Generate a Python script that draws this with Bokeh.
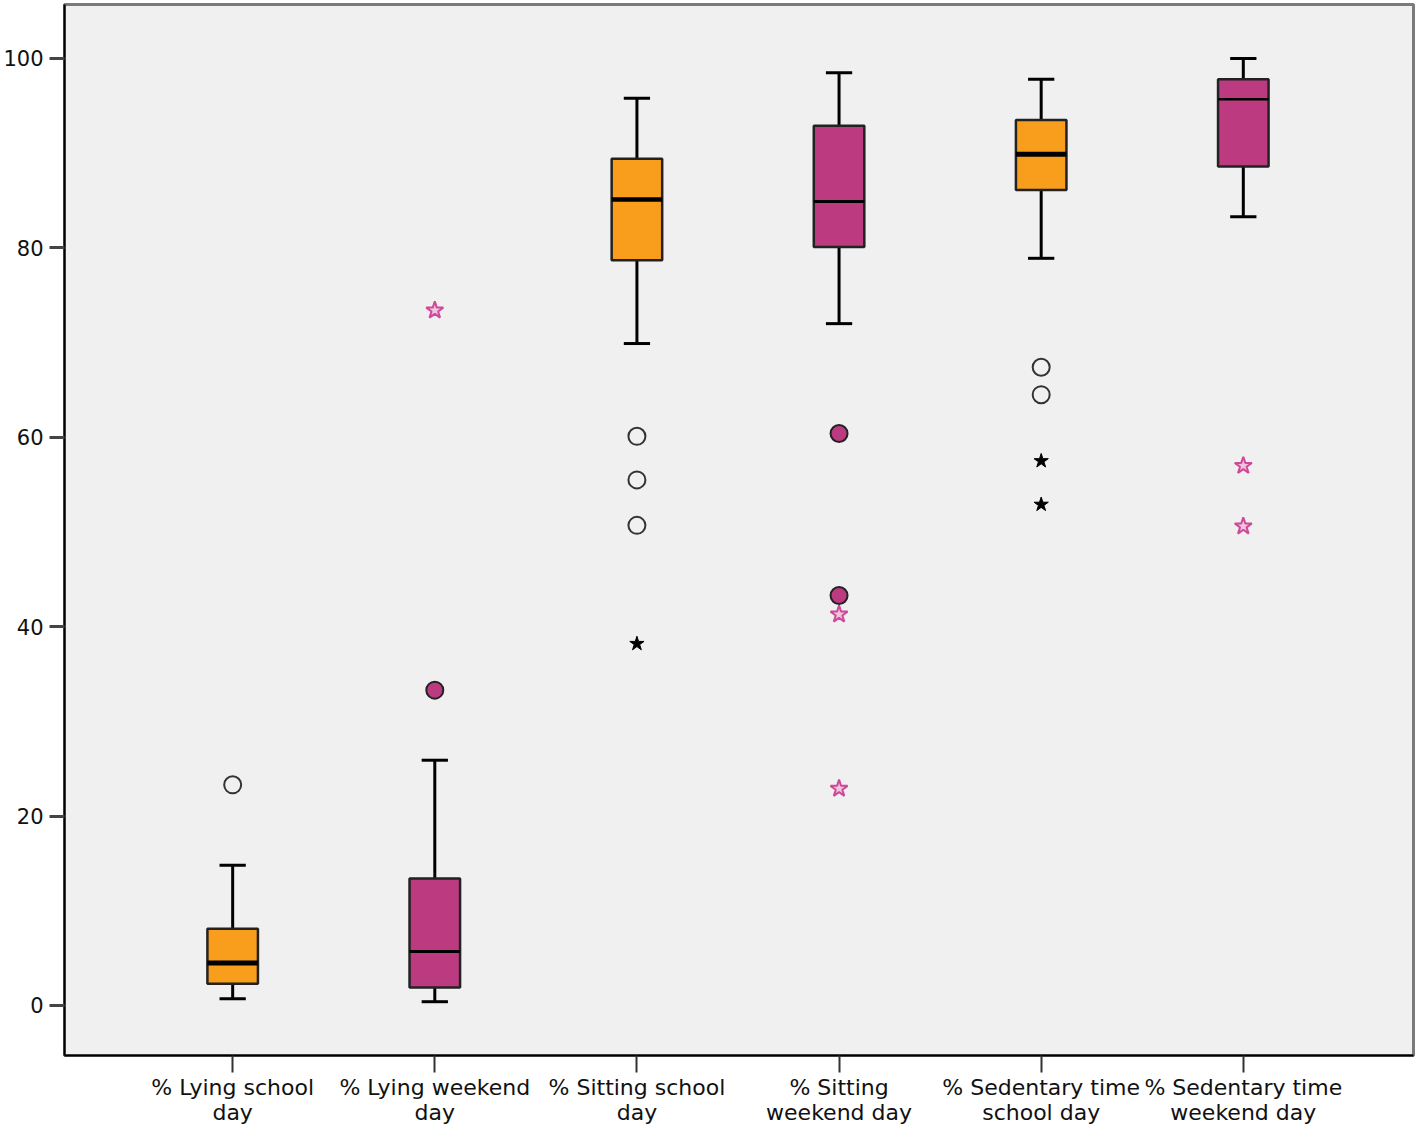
from bokeh.plotting import figure
from bokeh.models import Range1d, FixedTicker
from bokeh.embed import file_html
from bokeh.resources import INLINE

categories = ["% Lying school\nday", "% Lying weekend\nday", "% Sitting school\nday",
              "% Sitting\nweekend day", "% Sedentary time\nschool day", "% Sedentary time\nweekend day"]
positions = [1, 2, 3, 4, 5, 6]
whisker_low = [0.7, 0.4, 69.9, 72.0, 78.9, 83.3]
q1 = [2.3, 1.9, 78.7, 80.1, 86.1, 88.6]
median = [4.5, 5.7, 85.1, 84.9, 89.9, 95.7]
q3 = [8.1, 13.4, 89.4, 92.9, 93.5, 97.8]
whisker_high = [14.8, 25.9, 95.8, 98.5, 97.8, 100.0]
box_colors = ["#F99D1C", "#BC3A80", "#F99D1C", "#BC3A80", "#F99D1C", "#BC3A80"]
median_widths = [5, 3, 4.5, 3, 5, 2.5]

# outliers (open circles), outliers (filled magenta circles), extremes (stars)
open_out_x = [1, 3, 3, 3, 5, 5]
open_out_y = [23.3, 60.1, 55.5, 50.7, 67.4, 64.5]
filled_out_x = [2, 4, 4]
filled_out_y = [33.3, 60.4, 43.3]
black_star_x = [3, 5, 5]
black_star_y = [38.2, 57.5, 52.9]
pink_star_x = [2, 4, 4, 6, 6]
pink_star_y = [73.4, 41.3, 22.9, 57.0, 50.6]

p = figure(width=1418, height=1129, output_backend="svg", toolbar_location=None,
           x_range=Range1d(0.168, 6.842), y_range=Range1d(-5.28, 105.70),
           min_border_left=64, min_border_right=5, min_border_top=4, min_border_bottom=74)
p.background_fill_color = "#F0F0F0"
p.border_fill_color = "white"
p.outline_line_color = "#7a7a7a"
p.outline_line_width = 3
p.xgrid.visible = False
p.ygrid.visible = False

box_w = 0.25
cap_w = 0.13
for i, xpos in enumerate(positions):
    p.segment(x0=[xpos], y0=[q3[i]], x1=[xpos], y1=[whisker_high[i]], line_color="black", line_width=3)
    p.segment(x0=[xpos], y0=[whisker_low[i]], x1=[xpos], y1=[q1[i]], line_color="black", line_width=3)
    p.segment(x0=[xpos - cap_w / 2], y0=[whisker_high[i]], x1=[xpos + cap_w / 2], y1=[whisker_high[i]],
              line_color="black", line_width=3)
    p.segment(x0=[xpos - cap_w / 2], y0=[whisker_low[i]], x1=[xpos + cap_w / 2], y1=[whisker_low[i]],
              line_color="black", line_width=3)
    p.quad(left=[xpos - box_w / 2], right=[xpos + box_w / 2], bottom=[q1[i]], top=[q3[i]],
           fill_color=box_colors[i], line_color="#222222", line_width=2.5)
    p.segment(x0=[xpos - box_w / 2], y0=[median[i]], x1=[xpos + box_w / 2], y1=[median[i]],
              line_color="black", line_width=median_widths[i])

p.scatter(open_out_x, open_out_y, marker="circle", size=17, fill_color=None,
          line_color="#333333", line_width=2)
p.scatter(filled_out_x, filled_out_y, marker="circle", size=17, fill_color="#BC3A80",
          line_color="#222222", line_width=2)
p.scatter(black_star_x, black_star_y, marker="star", size=15, fill_color="black",
          line_color="black", line_width=1)
p.scatter(pink_star_x, pink_star_y, marker="star", size=18, fill_color="#F0C4DD",
          line_color="#D0489A", line_width=2)

p.yaxis.ticker = FixedTicker(ticks=[0, 20, 40, 60, 80, 100])
p.yaxis.minor_tick_line_color = None
p.yaxis.major_tick_out = 15
p.yaxis.major_tick_in = 0
p.yaxis.major_tick_line_width = 3
p.yaxis.major_tick_line_color = "#444444"
p.yaxis.axis_line_width = 2
p.yaxis.axis_line_color = "black"
p.yaxis.major_label_text_font = "DejaVu Sans"
p.yaxis.major_label_text_font_size = "21px"
p.yaxis.major_label_text_color = "#111111"
p.yaxis.major_label_standoff = 6

p.xaxis.ticker = FixedTicker(ticks=positions)
p.xaxis.major_label_overrides = {pos: lab for pos, lab in zip(positions, categories)}
p.xaxis.minor_tick_line_color = None
p.xaxis.major_tick_out = 17
p.xaxis.major_tick_in = 0
p.xaxis.major_tick_line_width = 2
p.xaxis.major_tick_line_color = "#333333"
p.xaxis.axis_line_width = 2
p.xaxis.axis_line_color = "black"
p.xaxis.major_label_text_font = "DejaVu Sans"
p.xaxis.major_label_text_font_size = "22px"
p.xaxis.major_label_text_line_height = 1.0
p.xaxis.major_label_text_color = "#111111"
p.xaxis.major_label_standoff = 2

open("out.html", "w").write(file_html(p, INLINE))
